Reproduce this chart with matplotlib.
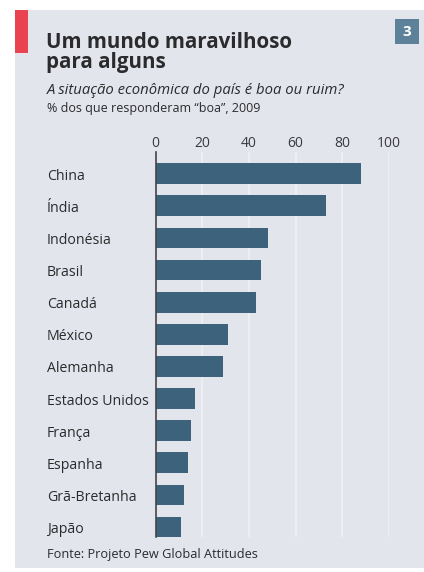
import matplotlib
matplotlib.use("Agg")
import matplotlib.pyplot as plt
from matplotlib.patches import Rectangle
from matplotlib import font_manager
from matplotlib.transforms import blended_transform_factory, ScaledTranslation

countries = ["China", "Índia", "Indonésia", "Brasil", "Canadá", "México", "Alemanha",
             "Estados Unidos", "França", "Espanha", "Grã-Bretanha", "Japão"]
values = [88, 73, 48, 45, 43, 31, 29, 17, 15, 14, 12, 11]
xticks = [0, 20, 40, 60, 80, 100]

title = "Um mundo maravilhoso\npara alguns"
subtitle = "A situação econômica do país é boa ou ruim?"
note = "% dos que responderam \u201cboa\u201d, 2009"
source = "Fonte: Projeto Pew Global Attitudes"

avail = {f.name for f in font_manager.fontManager.ttflist}
FONT = "Open Sans" if "Open Sans" in avail else "DejaVu Sans"
plt.rcParams['font.family'] = [FONT, 'DejaVu Sans']

W, H = 424, 572
fig = plt.figure(figsize=(W / 100, H / 100), dpi=100)
fig.patch.set_facecolor("white")

def fx(px): return px / W
def fy(py): return 1 - py / H

BG = "#e3e5ec"
fig.patches.append(Rectangle((fx(15), fy(568)), fx(424) - fx(15), fy(10) - fy(568),
                             transform=fig.transFigure, facecolor=BG, edgecolor="none", zorder=-10))
fig.patches.append(Rectangle((fx(15), fy(53)), fx(13), fy(10) - fy(53),
                             transform=fig.transFigure, facecolor="#e9434f", edgecolor="none", zorder=-9))
fig.patches.append(Rectangle((fx(395), fy(44)), fx(24), fy(19) - fy(44),
                             transform=fig.transFigure, facecolor="#5d8199", edgecolor="none", zorder=-9))
fig.text(fx(407), fy(31.5), "3", color="white", fontsize=11, fontweight="bold",
         ha="center", va="center")

TXT = "#2b2b2d"
fig.text(fx(46), fy(68), title, fontsize=14.8, fontweight="bold", color=TXT,
         va="baseline", ha="left", linespacing=0.95)
fig.text(fx(47), fy(94), subtitle, fontsize=10.7, style="italic", color=TXT,
         va="baseline", ha="left")
fig.text(fx(47), fy(112), note, fontsize=9.0, color=TXT, va="baseline", ha="left")
fig.text(fx(47), fy(558), source, fontsize=9.2, color=TXT, va="baseline", ha="left")

# axes: x 0..100 -> px 155.5..389 ; y top 151.7, bottom 537.3
ax = fig.add_axes([fx(155.5), fy(537.3), fx(389) - fx(155.5), fy(151.7) - fy(537.3)])
ax.set_facecolor("none")
ypos = list(range(len(countries)))
ax.barh(ypos, values, height=0.645, color="#3c627c", zorder=3)
ax.set_xlim(0, 100)
ax.set_ylim(11.32, -0.685)
for t in xticks[1:]:
    ax.axvline(t, color="#eef0f4", lw=1.2, zorder=1)
ax.set_xticks(xticks)
ax.xaxis.tick_top()
ax.tick_params(axis="x", length=0, pad=0.5, labelsize=10, labelcolor="#3a3a3e")
ax.set_yticks([])
for s in ["top", "right", "bottom"]:
    ax.spines[s].set_visible(False)
ax.spines["left"].set_color("#444449")
ax.spines["left"].set_linewidth(1.2)
ax.spines["left"].set_zorder(4)

tr = blended_transform_factory(fig.transFigure, ax.transData) + \
    ScaledTranslation(0, -2.5 / 100, fig.dpi_scale_trans)
for y, c in zip(ypos, countries):
    ax.text(fx(47), y, c, transform=tr, fontsize=10.2, color=TXT, ha="left", va="center")

fig.savefig("out.png", dpi=100, facecolor="white")
